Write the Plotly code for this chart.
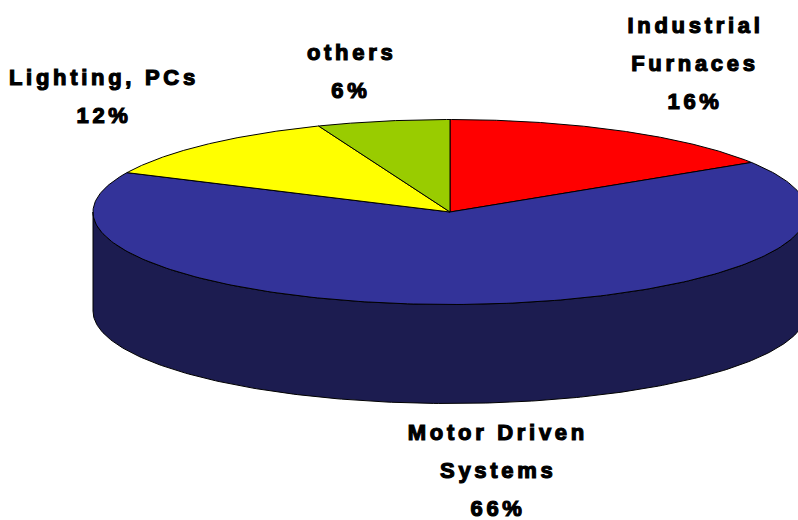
import numpy as np
import plotly.graph_objects as go

categories = ["Industrial Furnaces", "Motor Driven Systems", "Lighting, PCs", "others"]
shares = [16, 66, 12, 6]
top_colors = ["#ff0000", "#333399", "#ffff00", "#99cc00"]
wall_colors = ["#800000", "#1c1c50", "#808000", "#4d6600"]
label_lines = [["Industrial", "Furnaces", "16%"], ["Motor Driven", "Systems", "66%"], ["Lighting, PCs", "12%"], ["others", "6%"]]
label_x = [695, 498, 104, 351]
label_y = [25.5, 432.5, 77.5, 52.5]

W, H = 798, 520
CX, CY, RX, RY, DEPTH = 450, 212, 357, 92.5, 99
LINE_GAP = 38


def ex(t):
    return CX + RX * np.sin(t)


def ey(t):
    return CY - RY * np.cos(t)


fig = go.Figure()
edges = np.cumsum([0] + shares) / sum(shares) * 2 * np.pi

# front wall, for the part of each slice on the near side of the disc
for i in range(len(shares)):
    a, b = max(edges[i], np.pi / 2), min(edges[i + 1], 3 * np.pi / 2)
    if b <= a:
        continue
    t = np.linspace(a, b, 240)
    xs = np.r_[ex(t), ex(t[::-1]), ex(t[0])]
    ys = np.r_[ey(t), ey(t[::-1]) + DEPTH, ey(t[0])]
    fig.add_trace(go.Scatter(x=xs, y=ys, mode="lines", fill="toself", fillcolor=wall_colors[i],
                             line=dict(color="#000000", width=1), hoverinfo="skip", showlegend=False))

# top face
for i in range(len(shares)):
    t = np.linspace(edges[i], edges[i + 1], 240)
    xs = np.r_[CX, ex(t), CX]
    ys = np.r_[CY, ey(t), CY]
    fig.add_trace(go.Scatter(x=xs, y=ys, mode="lines", fill="toself", fillcolor=top_colors[i],
                             line=dict(color="#000000", width=1), name=categories[i],
                             hoverinfo="skip", showlegend=False))

for lines, x0, y0 in zip(label_lines, label_x, label_y):
    for j, line in enumerate(lines):
        fig.add_annotation(x=x0, y=y0 + j * LINE_GAP, text=line, showarrow=False, xanchor="center", yanchor="middle",
                           font=dict(family="Liberation Sans", size=22, color="#000000", weight="bold"))

fig.update_layout(
    width=W, height=H, margin=dict(l=0, r=0, t=0, b=0), autosize=False,
    paper_bgcolor="#ffffff", plot_bgcolor="#ffffff", showlegend=False,
    xaxis=dict(range=[0, W], visible=False, fixedrange=True),
    yaxis=dict(range=[H, 0], visible=False, fixedrange=True),
)

post = """
document.documentElement.style.margin='0';
document.documentElement.style.overflow='hidden';
document.body.style.margin='0';
document.querySelectorAll('.annotation-text').forEach(function(el){
  el.style.letterSpacing='3.7px';
  el.style.stroke='#000';
  el.style.strokeWidth='1.2px';
});
"""
fig.write_html("out.html", post_script=post, config={"displayModeBar": False})
